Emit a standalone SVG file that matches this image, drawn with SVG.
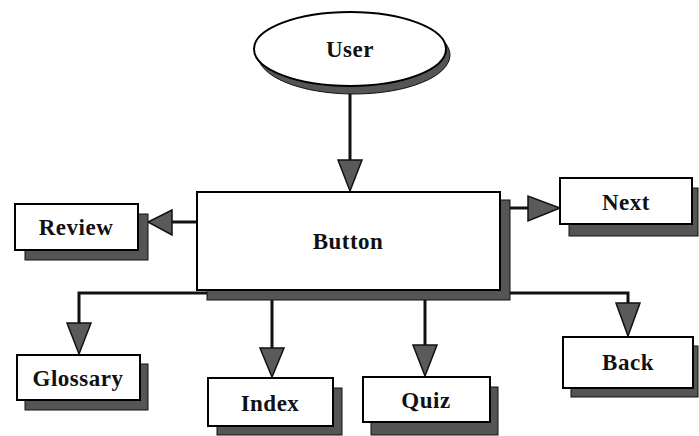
<svg xmlns="http://www.w3.org/2000/svg" width="699" height="436" viewBox="0 0 699 436">
<style>
.box{fill:#fff;stroke:#000;stroke-width:2}
.sh{fill:#555;stroke:#111;stroke-width:1}
.lbl{font-family:"Liberation Serif","DejaVu Serif",serif;font-weight:bold;font-size:23px;text-anchor:middle;fill:#111;letter-spacing:0.5px}
.ln{fill:none;stroke:#111;stroke-width:3}
.ah{fill:#5a5a5a;stroke:#111;stroke-width:1.5}
</style>
<rect width="699" height="436" fill="#fff"/>
<g id="connectors">
<line class="ln" x1="350" y1="92" x2="350" y2="162"/>
<polygon class="ah" points="338,160 362,160 350,191"/>
<line class="ln" x1="197" y1="222" x2="172" y2="222"/>
<polygon class="ah" points="172,210 172,235 148,222"/>
<line class="ln" x1="510" y1="208" x2="528" y2="208"/>
<polygon class="ah" points="528,196 528,221 560,208"/>
<polyline class="ln" points="79,325 79,293 628,293 628,305"/>
<line class="ln" x1="272" y1="293" x2="272" y2="350"/>
<line class="ln" x1="425" y1="293" x2="425" y2="347"/>
<polygon class="ah" points="67,323 91,323 79,354"/>
<polygon class="ah" points="260,348 284,348 272,377"/>
<polygon class="ah" points="413,345 437,345 425,376"/>
<polygon class="ah" points="616,303 640,303 628,336"/>
</g>
<g id="user">
<ellipse cx="354" cy="55" rx="96" ry="39" class="sh"/>
<ellipse cx="350" cy="49" rx="96" ry="37" class="box"/>
<text x="350" y="57" class="lbl">User</text>
</g>
<g id="button">
<rect x="207" y="200" width="303" height="100" class="sh"/>
<rect x="197" y="192" width="303" height="98" class="box"/>
<text x="348" y="249" class="lbl">Button</text>
</g>
<g id="review">
<rect x="25" y="214" width="123" height="46" class="sh"/>
<rect x="15" y="204" width="123" height="46" class="box"/>
<text x="76" y="235" class="lbl">Review</text>
</g>
<g id="next">
<rect x="569" y="188" width="129" height="48" class="sh"/>
<rect x="560" y="178" width="132" height="46" class="box"/>
<text x="626" y="210" class="lbl">Next</text>
</g>
<g id="glossary">
<rect x="25" y="364" width="123" height="46" class="sh"/>
<rect x="17" y="355" width="123" height="45" class="box"/>
<text x="78" y="386" class="lbl">Glossary</text>
</g>
<g id="index">
<rect x="217" y="388" width="125" height="47" class="sh"/>
<rect x="208" y="378" width="125" height="48" class="box"/>
<text x="270" y="411" class="lbl">Index</text>
</g>
<g id="quiz">
<rect x="371" y="387" width="127" height="48" class="sh"/>
<rect x="363" y="377" width="127" height="45" class="box"/>
<text x="426" y="408" class="lbl">Quiz</text>
</g>
<g id="back">
<rect x="571" y="346" width="127" height="51" class="sh"/>
<rect x="563" y="337" width="130" height="51" class="box"/>
<text x="628" y="370" class="lbl">Back</text>
</g>
</svg>
